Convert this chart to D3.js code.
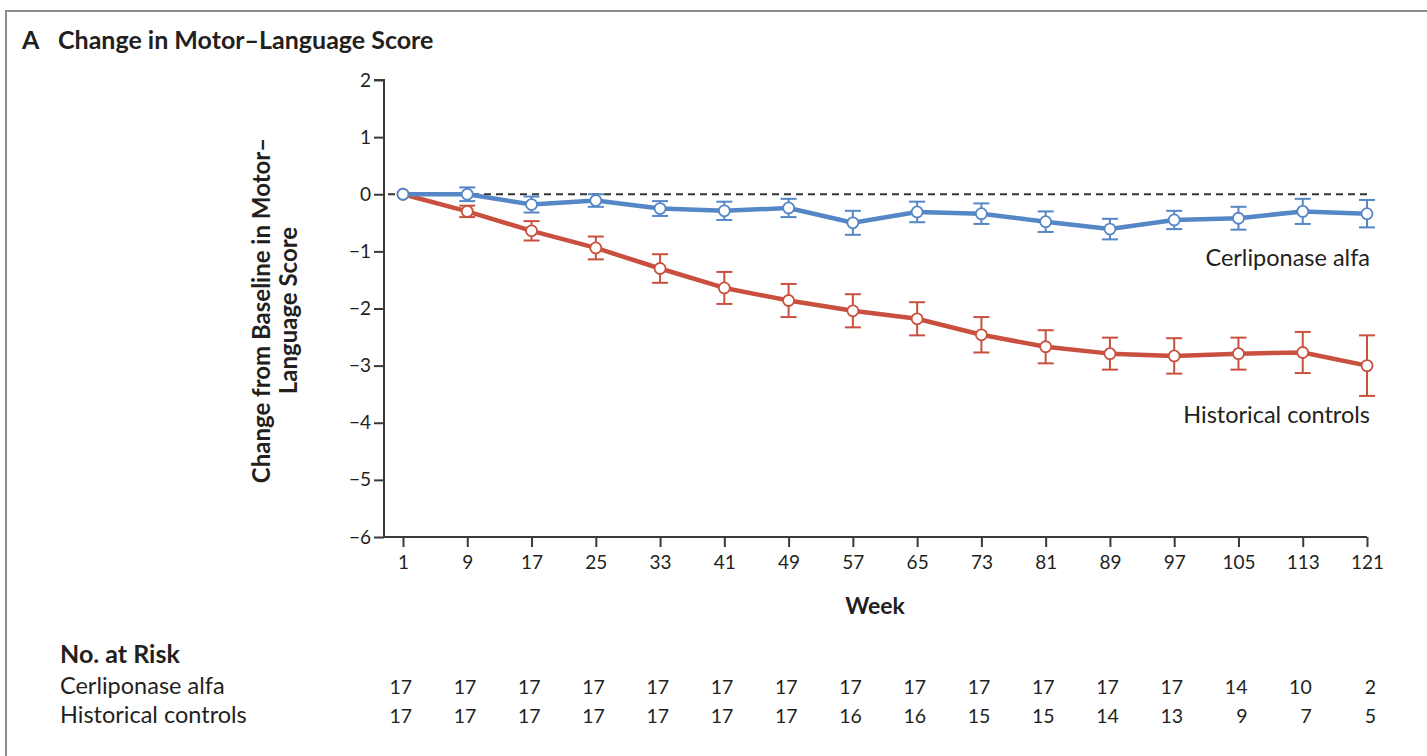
<!DOCTYPE html>
<html>
<head>
<meta charset="utf-8">
<script src="https://cdn.jsdelivr.net/npm/d3@7"></script>
<style>
  html, body { margin: 0; padding: 0; background: #fff; }
  svg { display: block; }
  text { font-family: Lato, "Open Sans", sans-serif; fill: #231f20; }
</style>
</head>
<body>
<svg id="chart" width="1427" height="756"></svg>
<script>
// Study weeks at which the score was assessed
const weeks = [1, 9, 17, 25, 33, 41, 49, 57, 65, 73, 81, 89, 97, 105, 113, 121];

// Mean change from baseline, with error-bar half widths
const cerliponaseMean = [0, 0.0, -0.18, -0.11, -0.25, -0.29, -0.24, -0.50, -0.31, -0.34, -0.48, -0.61, -0.45, -0.42, -0.30, -0.34];
const cerliponaseErr  = [0, 0.12, 0.14, 0.11, 0.13, 0.16, 0.16, 0.21, 0.18, 0.18, 0.18, 0.18, 0.16, 0.20, 0.22, 0.24];
const controlsMean    = [0, -0.30, -0.64, -0.94, -1.30, -1.64, -1.86, -2.04, -2.18, -2.46, -2.67, -2.79, -2.83, -2.79, -2.77, -3.00];
const controlsErr     = [0, 0.10, 0.17, 0.20, 0.25, 0.28, 0.29, 0.29, 0.29, 0.31, 0.29, 0.28, 0.31, 0.28, 0.36, 0.53];

// Number of patients at risk at each week
const riskCerliponase = [17, 17, 17, 17, 17, 17, 17, 17, 17, 17, 17, 17, 17, 14, 10, 2];
const riskControls    = [17, 17, 17, 17, 17, 17, 17, 16, 16, 15, 15, 14, 13, 9, 7, 5];

const yTicks = [2, 1, 0, -1, -2, -3, -4, -5, -6];

const seriesNames = ["Cerliponase alfa", "Historical controls"];
const seriesColors = ["#5586c6", "#c9503e"];

const svg = d3.select("#chart");

// Panel frame
svg.append("rect")
  .attr("x", 6).attr("y", 11)
  .attr("width", 1440).attr("height", 800)
  .attr("fill", "none").attr("stroke", "#8c8c8c").attr("stroke-width", 2);

// Panel title
const title = svg.append("text").attr("x", 22).attr("y", 49)
  .style("font-size", "25px").style("font-weight", 700);
title.append("tspan").text("A");
title.append("tspan").attr("x", 58).text("Change in Motor\u2013Language Score");

// Scales
const axisX0 = 384;
const x = d3.scaleLinear().domain([1, 121]).range([403, 1367]);
const y = d3.scaleLinear().domain([-6, 2]).range([537, 80]);

// Y axis
const yAxis = svg.append("g")
  .attr("transform", `translate(${axisX0},0)`)
  .call(d3.axisLeft(y).tickValues(yTicks).tickSize(10).tickPadding(3)
    .tickFormat(d => d < 0 ? "\u2212" + Math.abs(d) : String(d)));
yAxis.select(".domain").attr("d", `M-10,${y(2)}H0V${y(-6)}`);

// X axis
const xAxis = svg.append("g")
  .attr("transform", `translate(0,${y(-6)})`)
  .call(d3.axisBottom(x).tickValues(weeks).tickSize(10).tickPadding(9).tickFormat(d3.format("d")));
xAxis.select(".domain").attr("d", `M${axisX0},0H${x(121)}`);

[yAxis, xAxis].forEach(g => {
  g.selectAll(".domain").attr("stroke", "#3a3a3a").attr("stroke-width", 2);
  g.selectAll(".tick line").attr("stroke", "#3a3a3a").attr("stroke-width", 2);
  g.selectAll(".tick text").style("font-size", "19px").attr("fill", "#231f20")
    .style("font-family", "Lato, sans-serif");
});

// Axis titles
svg.append("text")
  .attr("x", 875).attr("y", 614)
  .attr("text-anchor", "middle")
  .style("font-size", "23px").style("font-weight", 700)
  .text("Week");

const yTitle = svg.append("text")
  .attr("transform", `translate(270,${(y(2) + y(-6)) / 2 + 2}) rotate(-90)`)
  .attr("text-anchor", "middle")
  .style("font-size", "24px").style("font-weight", 700);
yTitle.append("tspan").attr("x", 0).attr("dy", 0).text("Change from Baseline in Motor\u2013");
yTitle.append("tspan").attr("x", 0).attr("dy", 27).text("Language Score");

// Reference line at zero
svg.append("line")
  .attr("x1", axisX0 + 4).attr("x2", x(121))
  .attr("y1", y(0)).attr("y2", y(0))
  .attr("stroke", "#333").attr("stroke-width", 2)
  .attr("stroke-dasharray", "7,5");

// Series
const series = [
  { name: seriesNames[1], color: seriesColors[1], mean: controlsMean, err: controlsErr },
  { name: seriesNames[0], color: seriesColors[0], mean: cerliponaseMean, err: cerliponaseErr }
];

series.forEach(s => {
  const pts = weeks.map((w, i) => ({ w, m: s.mean[i], e: s.err[i] }));
  const g = svg.append("g");

  // Error bars
  const eb = g.selectAll(".eb").data(pts.filter(p => p.e > 0)).join("g");
  eb.append("line")
    .attr("x1", d => x(d.w)).attr("x2", d => x(d.w))
    .attr("y1", d => y(d.m + d.e)).attr("y2", d => y(d.m - d.e));
  eb.append("line")
    .attr("x1", d => x(d.w) - 8).attr("x2", d => x(d.w) + 8)
    .attr("y1", d => y(d.m + d.e)).attr("y2", d => y(d.m + d.e));
  eb.append("line")
    .attr("x1", d => x(d.w) - 8).attr("x2", d => x(d.w) + 8)
    .attr("y1", d => y(d.m - d.e)).attr("y2", d => y(d.m - d.e));
  eb.selectAll("line").attr("stroke", s.color).attr("stroke-width", 2);

  // Mean line
  g.append("path")
    .datum(pts)
    .attr("d", d3.line().x(d => x(d.w)).y(d => y(d.m)))
    .attr("fill", "none").attr("stroke", s.color).attr("stroke-width", 4.5)
    .attr("stroke-linejoin", "round");

  // Markers
  g.selectAll("circle").data(pts).join("circle")
    .attr("cx", d => x(d.w)).attr("cy", d => y(d.m)).attr("r", 5.5)
    .attr("fill", "#fff").attr("stroke", s.color).attr("stroke-width", 1.8);
});

// Series labels
svg.append("text").attr("x", 1370).attr("y", 266).attr("text-anchor", "end")
  .style("font-size", "23.5px").text(seriesNames[0]);
svg.append("text").attr("x", 1370).attr("y", 423).attr("text-anchor", "end")
  .style("font-size", "23.5px").text(seriesNames[1]);

// Number at risk table
svg.append("text").attr("x", 60).attr("y", 663)
  .style("font-size", "25px").style("font-weight", 700).text("No. at Risk");

const riskRows = [
  { label: seriesNames[0], values: riskCerliponase, yPos: 694 },
  { label: seriesNames[1], values: riskControls, yPos: 723 }
];
riskRows.forEach(r => {
  svg.append("text").attr("x", 60).attr("y", r.yPos)
    .style("font-size", "23.5px").text(r.label);
  svg.selectAll(null).data(r.values).join("text")
    .attr("x", (d, i) => x(weeks[i]) + 9)
    .attr("y", r.yPos)
    .attr("text-anchor", "end")
    .style("font-size", "19.5px")
    .text(d => d);
});
</script>
</body>
</html>
